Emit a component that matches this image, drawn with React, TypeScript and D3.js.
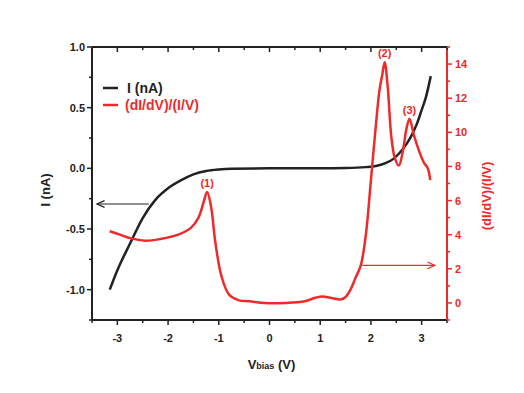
import React from "react";
import * as d3 from "d3";

const width = 524;
const height = 393;
const left = 92, right = 447, top = 47, bottom = 320;

const BLACK = "#222222";
const RED = "#ee2a2a";

// current, left axis
const ivV = [-3.15, -3.0, -2.75, -2.5, -2.25, -2.0, -1.75, -1.5, -1.25, -1.0, -0.75, 0, 1.0, 1.5, 1.9, 2.1, 2.3, 2.45, 2.55, 2.7, 2.8, 2.9, 3.0, 3.08, 3.18];
const ivI = [-1.0, -0.84, -0.62, -0.41, -0.26, -0.165, -0.1, -0.05, -0.022, -0.009, -0.003, 0, 0, 0.002, 0.01, 0.02, 0.045, 0.08, 0.12, 0.2, 0.27, 0.36, 0.48, 0.58, 0.76];

// normalized conductance, right axis
const ndcV = [-3.15, -2.95, -2.75, -2.45, -2.15, -1.8, -1.55, -1.4, -1.3, -1.23, -1.15, -1.07, -0.95, -0.8, -0.6, -0.4, -0.1, 0.3, 0.7, 0.9, 1.05, 1.2, 1.4, 1.5, 1.6, 1.7, 1.8, 1.9, 2.0, 2.1, 2.17, 2.22, 2.27, 2.33, 2.4, 2.47, 2.55, 2.63, 2.7, 2.76, 2.85, 2.95, 3.05, 3.12, 3.17];
const ndcY = [4.2, 4.0, 3.8, 3.65, 3.75, 4.0, 4.4, 5.0, 5.9, 6.5, 5.6, 3.6, 1.6, 0.5, 0.15, 0.1, 0.0, 0.0, 0.1, 0.3, 0.38, 0.3, 0.2, 0.35, 0.8, 1.5, 2.2, 4.0, 7.2, 10.5, 12.5, 13.3, 14.1, 12.7, 9.8, 8.5, 8.05, 8.9, 10.2, 10.8, 9.8, 8.9, 8.2, 7.9, 7.2];

const peakLabels = ["(1)", "(2)", "(3)"];
const peakV = [-1.23, 2.27, 2.76];
const peakY = [6.5, 14.1, 10.8];

const xTicks = [-3, -2, -1, 0, 1, 2, 3];
const yTicks = [-1.0, -0.5, 0.0, 0.5, 1.0];
const y2Ticks = [0, 2, 4, 6, 8, 10, 12, 14];

const font = "'Liberation Sans', Arial, sans-serif";

export default function App() {
  const x = d3.scaleLinear().domain([-3.5, 3.5]).range([left, right]);
  const y = d3.scaleLinear().domain([-1.25, 1.0]).range([bottom, top]);
  const y2 = d3.scaleLinear().domain([-1, 15]).range([bottom, top]);

  const ivLine = d3.line<number>()
    .x((d, i) => x(ivV[i]))
    .y(d => y(d))
    .curve(d3.curveMonotoneX);
  const ndcLine = d3.line<number>()
    .x((d, i) => x(ndcV[i]))
    .y(d => y2(d))
    .curve(d3.curveCatmullRom.alpha(0.5));

  const xMinor = d3.range(-3.5, 3.51, 0.5);
  const yMinor = d3.range(-1.25, 1.01, 0.25);
  const y2Minor = d3.range(-1, 15.01, 1);

  return (
    <svg width={width} height={height} style={{ position: "absolute", left: 0, top: 0, background: "#fff" }} fontFamily={font} fontWeight="bold">
      <defs>
        <marker id="ahb" viewBox="0 0 10 10" refX="9" refY="5" markerWidth="7" markerHeight="7" orient="auto">
          <path d="M0,1 L9,5 L0,9" fill="none" stroke={BLACK} strokeWidth="1.4" />
        </marker>
        <marker id="ahr" viewBox="0 0 10 10" refX="9" refY="5" markerWidth="7" markerHeight="7" orient="auto">
          <path d="M0,1 L9,5 L0,9" fill="none" stroke={RED} strokeWidth="1.4" />
        </marker>
      </defs>

      {/* frame */}
      <line x1={left} x2={right} y1={top} y2={top} stroke={BLACK} strokeWidth={2} />
      <line x1={left} x2={right} y1={bottom} y2={bottom} stroke={BLACK} strokeWidth={2} />
      <line x1={left} x2={left} y1={top} y2={bottom} stroke={BLACK} strokeWidth={2} />
      <line x1={right} x2={right} y1={top} y2={bottom} stroke={RED} strokeWidth={2} />

      {/* bottom / top ticks */}
      {xMinor.map((v, i) => {
        const major = Math.abs(v - Math.round(v)) < 1e-6;
        const len = major ? 5 : 3;
        return (
          <g key={"x" + i}>
            <line x1={x(v)} x2={x(v)} y1={bottom} y2={bottom + len} stroke={BLACK} strokeWidth={1.5} />
            <line x1={x(v)} x2={x(v)} y1={top} y2={top + len} stroke={BLACK} strokeWidth={1.5} />
          </g>
        );
      })}
      {xTicks.map(v => (
        <text key={"xt" + v} x={x(v)} y={bottom + 22} textAnchor="middle" fontSize={11} fill={BLACK}>{v}</text>
      ))}

      {/* left ticks */}
      {yMinor.map((v, i) => {
        const major = Math.abs(v * 2 - Math.round(v * 2)) < 1e-6;
        return <line key={"y" + i} x1={left} x2={left - (major ? 5 : 3)} y1={y(v)} y2={y(v)} stroke={BLACK} strokeWidth={1.5} />;
      })}
      {yTicks.map(v => (
        <text key={"yt" + v} x={left - 7} y={y(v) + 4} textAnchor="end" fontSize={11} fill={BLACK}>{v.toFixed(1)}</text>
      ))}

      {/* right ticks */}
      {y2Minor.map((v, i) => {
        const major = Math.round(v) % 2 === 0;
        return <line key={"y2" + i} x1={right} x2={right + (major ? 5 : 3)} y1={y2(v)} y2={y2(v)} stroke={RED} strokeWidth={1.5} />;
      })}
      {y2Ticks.map(v => (
        <text key={"y2t" + v} x={right + 8} y={y2(v) + 4} textAnchor="start" fontSize={11} fill={RED}>{v}</text>
      ))}

      {/* axis titles */}
      <text transform="translate(50,190) rotate(-90)" textAnchor="middle" fontSize={13} fill={BLACK}>I (nA)</text>
      <text transform="translate(491,196) rotate(-90)" textAnchor="middle" fontSize={13} fill={RED}>(dI/dV)/(I/V)</text>
      <text x={(left + right) / 2 + 2} y={369} textAnchor="middle" fontSize={13} fill={BLACK}>
        V<tspan fontSize={9}>bias</tspan> (V)
      </text>

      {/* curves */}
      <path d={ivLine(ivI) ?? ""} fill="none" stroke={BLACK} strokeWidth={2.5} />
      <path d={ndcLine(ndcY) ?? ""} fill="none" stroke={RED} strokeWidth={2.5} />

      {/* peak labels */}
      {peakLabels.map((t, i) => (
        <text key={t} x={x(peakV[i])} y={y2(peakY[i]) - 5} textAnchor="middle" fontSize={11} fill={RED}>{t}</text>
      ))}

      {/* arrows */}
      <line x1={x(-2.38)} x2={left + 5} y1={204} y2={204} stroke={BLACK} strokeWidth={1.2} markerEnd="url(#ahb)" />
      <line x1={x(1.83)} x2={right - 12} y1={y2(2.2)} y2={y2(2.2)} stroke={RED} strokeWidth={1.2} markerEnd="url(#ahr)" />

      {/* legend */}
      <line x1={103} x2={118} y1={88} y2={88} stroke={BLACK} strokeWidth={2.5} />
      <text x={127} y={93} fontSize={14} fill={BLACK}>I (nA)</text>
      <line x1={103} x2={118} y1={105} y2={105} stroke={RED} strokeWidth={2.5} />
      <text x={125} y={110} fontSize={14} fill={RED}>(dI/dV)/(I/V)</text>
    </svg>
  );
}
